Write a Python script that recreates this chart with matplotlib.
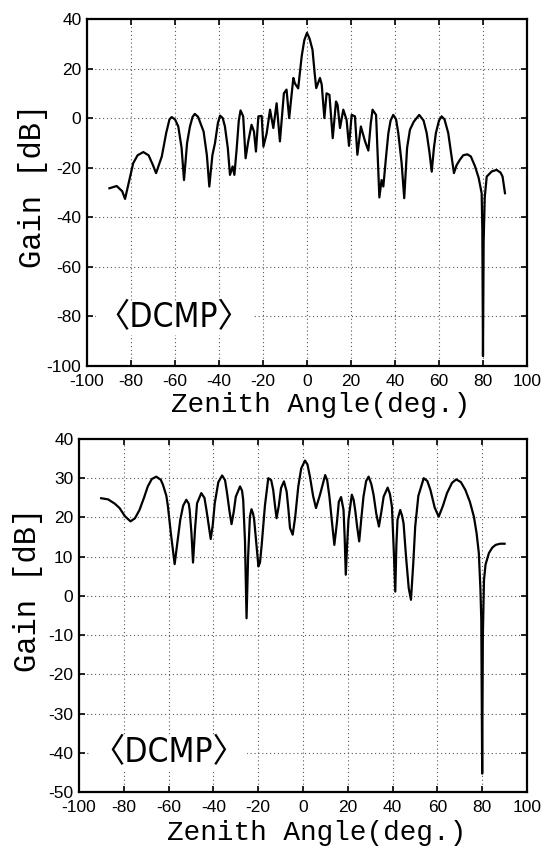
import matplotlib
matplotlib.use("Agg")
import matplotlib.pyplot as plt
import numpy as np

# Data ###################################################################################
# Upper panel: gain pattern, range -100..40 dB
angle_top = [-89.8, -86.5, -84.0, -82.7, -80.5, -79.0, -77.0, -74.4, -72.0, -70.0,
             -68.6, -66.0, -64.0, -62.5, -61.5, -60.0, -58.5, -57.0, -55.9, -54.5,
             -53.2, -52.0, -51.0, -49.5, -47.0, -45.5, -44.4, -43.0, -41.8, -40.5,
             -39.5, -38.3, -37.3, -36.0, -35.0, -33.8, -33.0, -32.0, -31.0, -30.2,
             -29.0, -27.9, -26.7, -25.2, -24.1, -23.2, -22.1, -20.6, -19.8, -18.3,
             -16.8, -15.3, -13.8, -12.3, -10.5, -9.3, -8.1, -6.2, -5.5, -4.0,
             -2.4, -1.2, 0.0, 1.2, 2.5, 3.5, 4.2, 5.9, 6.7, 7.9,
             8.9, 10.2, 11.7, 13.2, 13.9, 15.0, 16.5, 18.0, 19.1, 20.3,
             21.8, 22.9, 24.5, 26.4, 27.9, 29.0, 29.8, 31.4, 32.9, 33.9,
             34.7, 36.0, 37.0, 38.0, 39.2, 40.5, 41.5, 43.0, 44.2, 45.5,
             46.8, 48.5, 51.0, 53.0, 54.4, 55.7, 56.7, 57.7, 58.6, 60.0,
             61.2, 62.5, 64.2, 65.5, 66.8, 68.0, 69.5, 71.0, 72.9, 74.5,
             76.4, 78.0, 79.4, 79.7, 80.0, 80.3, 80.8, 81.7, 84.0, 86.2,
             88.0, 88.9, 90.0]
gain_top = [-28.3, -27.4, -29.5, -32.6, -24.0, -18.2, -15.0, -13.7, -15.0, -19.0,
            -22.2, -15.5, -6.0, -0.5, 0.4, -0.5, -3.4, -12.0, -25.0, -10.0,
            -3.4, 0.5, 1.7, 0.5, -5.4, -15.0, -27.6, -15.0, -10.0, -2.0,
            1.0, 0.0, -3.4, -12.0, -22.9, -19.5, -22.9, -12.8, -1.0, 3.1,
            0.7, -16.2, -9.4, -2.7, -5.4, -13.5, 0.7, 0.9, -11.5, -6.0,
            3.4, -4.0, 6.0, -9.4, 10.0, 11.5, 0.0, 16.2, 14.0, 12.0,
            25.0, 31.5, 34.4, 32.0, 27.6, 18.0, 12.1, 16.2, 13.5, 0.0,
            10.0, 9.4, -8.1, 6.7, 5.4, -4.0, 3.4, -0.7, -11.2, 1.3,
            0.7, -14.8, -3.4, -9.4, -13.1, -2.0, 3.4, 1.3, -32.0, -25.0,
            -27.6, -15.0, -6.0, -1.0, 1.3, -0.5, -6.0, -18.0, -32.3, -12.0,
            -4.7, -1.5, 1.3, -1.0, -6.0, -14.0, -21.6, -12.0, -6.0, -1.0,
            0.7, -0.5, -6.0, -14.0, -22.2, -19.0, -16.8, -15.0, -14.6, -15.5,
            -19.5, -24.0, -30.3, -45.0, -96.0, -50.0, -32.0, -23.6, -21.5, -20.9,
            -22.0, -23.6, -30.3]

# Lower panel: gain pattern, range -50..40 dB
angle_bot = [-90.1, -87.0, -84.0, -81.9, -79.5, -77.0, -75.0, -73.0, -71.0, -69.3,
             -67.5, -65.5, -63.5, -62.5, -61.0, -60.3, -59.0, -57.3, -56.0, -54.8,
             -53.5, -52.1, -51.0, -50.6, -49.8, -49.1, -48.2, -47.3, -45.4, -44.0,
             -43.1, -42.0, -41.2, -40.3, -39.4, -37.8, -36.1, -34.8, -33.9, -32.8,
             -31.9, -30.9, -30.0, -28.1, -27.2, -26.7, -25.9, -25.2, -24.5, -23.7,
             -23.0, -22.3, -21.8, -20.8, -19.9, -19.2, -18.5, -17.0, -15.5, -14.2,
             -13.3, -12.5, -11.8, -10.8, -9.8, -8.5, -7.3, -6.5, -5.8, -4.6,
             -3.5, -2.1, -0.8, 0.9, 2.0, 3.1, 4.5, 5.8, 7.6, 9.9,
             10.8, 11.8, 12.9, 14.0, 15.2, 16.0, 17.0, 18.1, 18.6, 19.1,
             19.7, 20.3, 21.8, 22.6, 23.3, 24.2, 25.1, 26.0, 27.0, 28.2,
             29.3, 30.5, 31.5, 32.7, 33.9, 35.0, 36.0, 37.8, 38.8, 39.7,
             40.5, 41.2, 41.7, 42.2, 43.4, 44.2, 44.9, 46.0, 47.2, 48.2,
             49.2, 50.1, 51.5, 53.9, 55.5, 56.9, 58.8, 60.6, 62.5, 64.3,
             66.5, 68.4, 70.5, 72.5, 74.5, 76.3, 77.5, 78.5, 79.2, 79.6,
             80.0, 80.3, 80.8, 81.5, 83.0, 84.5, 86.0, 88.0, 90.0]
gain_bot = [24.9, 24.6, 23.5, 22.4, 20.3, 19.0, 19.8, 21.9, 25.0, 27.9,
            29.8, 30.4, 29.6, 28.3, 25.5, 22.8, 16.0, 8.1, 14.0, 19.4,
            23.0, 24.5, 23.5, 21.9, 16.0, 8.5, 17.0, 23.6, 26.2, 25.0,
            21.9, 17.5, 14.5, 18.0, 23.6, 29.0, 30.7, 29.5, 26.2, 21.5,
            18.3, 21.5, 25.3, 27.9, 26.8, 24.5, 14.0, -5.7, 10.0, 20.2,
            22.1, 21.0, 19.4, 13.0, 7.5, 8.5, 12.6, 23.0, 30.0, 29.5,
            27.0, 23.0, 19.8, 23.0, 27.5, 29.2, 26.6, 22.0, 17.3, 15.6,
            20.0, 27.9, 32.5, 34.5, 33.5, 30.4, 25.5, 22.4, 25.8, 30.8,
            29.5, 25.3, 19.0, 13.0, 19.0, 24.0, 25.2, 21.9, 15.0, 5.4,
            13.0, 19.4, 25.8, 24.5, 21.9, 17.5, 13.9, 19.5, 25.3, 29.3,
            30.4, 28.5, 25.8, 21.0, 17.7, 21.5, 25.3, 27.6, 26.0, 22.8,
            12.0, 1.1, 13.0, 19.4, 21.9, 20.5, 18.5, 10.0, 2.0, -1.0,
            8.0, 17.7, 25.5, 30.0, 29.3, 27.0, 22.5, 20.2, 23.0, 26.2,
            28.8, 29.7, 29.0, 27.0, 24.0, 20.2, 16.0, 10.9, 2.0, -6.0,
            -45.3, -10.0, 4.0, 8.0, 10.9, 12.3, 13.0, 13.3, 13.3]

xticks = list(range(-100, 101, 20))
yticks_top = list(range(-100, 41, 20))
yticks_bot = list(range(-50, 41, 10))
label_text = "〈DCMP〉"

# Figure ###################################################################################
fig = plt.figure(figsize=(5.43, 8.46), dpi=100)
ax1 = fig.add_axes([0.1602, 0.5674, 0.8103, 0.4102])
ax2 = fig.add_axes([0.1455, 0.0638, 0.8250, 0.4173])

tick_font = {"family": "Liberation Sans", "size": 12.5}
label_font = ["Liberation Mono", "DejaVu Sans Mono"]
tag_font = ["DejaVu Sans", "Noto Sans CJK JP"]


def StylePanel(ax, yticks, ylim, ylab_pos, xlab_pos):
    '''
    MATLAB-ish look: inward ticks on all sides, dotted grid, heavy frame
    '''
    ax.set_xlim(-100, 100)
    ax.set_ylim(*ylim)
    ax.set_xticks(xticks)
    ax.set_yticks(yticks)
    ax.set_xticklabels([str(t) for t in xticks], fontdict=tick_font)
    ax.set_yticklabels([str(t) for t in yticks], fontdict=tick_font)
    ax.tick_params(direction="in", top=True, right=True, length=4, width=1.2,
                   color="black", pad=4)
    ax.tick_params(axis="x", pad=6)
    for s in ax.spines.values():
        s.set_linewidth(1.6)
    ax.grid(True, linestyle=(0, (1, 2.5)), linewidth=0.8, color="0.35")
    ax.set_axisbelow(True)
    ax.set_ylabel("Gain [dB]", family=label_font, fontsize=22)
    ax.yaxis.set_label_coords(*ylab_pos)
    ax.yaxis.label.set_va("center")
    ax.set_xlabel("Zenith Angle(deg.)", family=label_font, fontsize=20)
    ax.xaxis.set_label_coords(*xlab_pos)
    ax.xaxis.label.set_va("center")


def Tag(ax, x, y):
    ax.text(x, y, label_text, ha="center", va="center", fontsize=24,
            family=tag_font, fontstretch="condensed",
            bbox=dict(facecolor="white", edgecolor="none", pad=0.5))


ax1.plot(angle_top, gain_top, color="black", linewidth=1.6)
StylePanel(ax1, yticks_top, (-100, 40), (-0.123, 0.519), (0.53, -0.112))
Tag(ax1, -60.5, -80.6)

ax2.plot(angle_bot, gain_bot, color="black", linewidth=1.6)
StylePanel(ax2, yticks_bot, (-50, 40), (-0.114, 0.572), (0.531, -0.116))
Tag(ax2, -59.8, -40.0)

fig.savefig("out.png", dpi=100, facecolor="white")
